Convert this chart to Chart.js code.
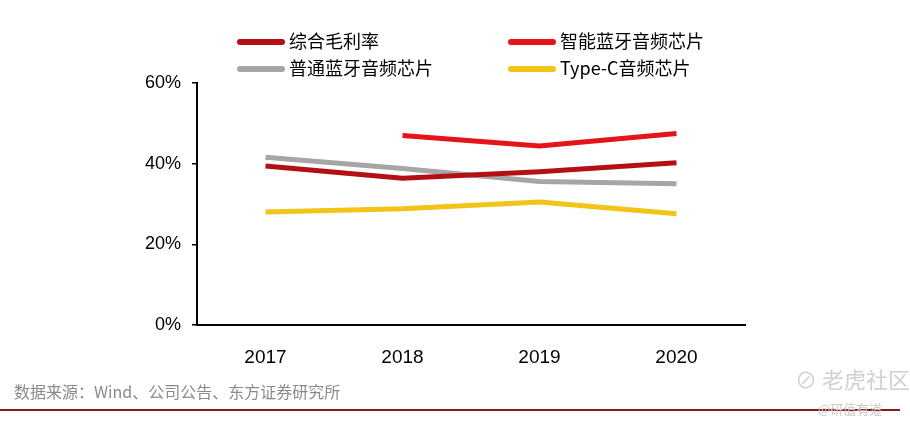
<!DOCTYPE html>
<html>
<head>
<meta charset="utf-8">
<script src="https://cdn.jsdelivr.net/npm/chart.js@4/dist/chart.umd.min.js"></script>
<style>
  body { margin: 0; width: 910px; height: 430px; background: #fff; overflow: hidden; position: relative; }
  #wrap { position: absolute; left: 0; top: 0; width: 910px; height: 380px; }
  .leg { position: absolute; font-family: "Noto Sans CJK SC", sans-serif; font-size: 18px; color: #000; line-height: 20px; white-space: nowrap; }
  .leg i { display: inline-block; width: 48px; height: 6px; border-radius: 3px; vertical-align: middle; margin-right: 4px; position: relative; top: -1px; }
  #src { position: absolute; left: 14px; top: 379px; font-family: "Noto Sans CJK SC", sans-serif; font-size: 16px; color: #8a8a8a; }
  #rule { position: absolute; left: 0; top: 409px; width: 900px; height: 2px; background: #8b1a1a; }
  #wm1 { position: absolute; left: 795px; top: 362px; font-family: "Noto Sans CJK SC", sans-serif; font-size: 22px; color: #d0d0d0; }
  #wm2 { position: absolute; left: 818px; top: 399px; font-family: "Noto Sans CJK SC", sans-serif; font-size: 13px; color: #c8c8c8; }
</style>
</head>
<body>
<div id="wrap"><canvas id="c"></canvas></div>
<div id="legend"></div>
<div id="src">数据来源：Wind、公司公告、东方证券研究所</div>
<div id="rule"></div>
<div id="wm1">⊘ 老虎社区</div>
<div id="wm2">@研值有道</div>
<script>
var years = ["2017", "2018", "2019", "2020"];
var grossMargin = [39.4, 36.4, 38.0, 40.2];
var smartBt = [null, 47.0, 44.4, 47.5];
var normalBt = [41.6, 38.8, 35.6, 35.0];
var typeC = [28.0, 28.8, 30.5, 27.6];
var yTicks = [0, 20, 40, 60];

var names = ["综合毛利率", "智能蓝牙音频芯片", "普通蓝牙音频芯片", "Type-C音频芯片"];
var colors = ["#b31015", "#e5141b", "#a6a6a6", "#f2c318"];
var series = [grossMargin, smartBt, normalBt, typeC];

var datasets = series.map(function (d, i) {
  return {
    label: names[i],
    data: d,
    borderColor: colors[i],
    backgroundColor: colors[i],
    borderWidth: 5,
    pointRadius: 0,
    tension: 0,
    fill: false,
  };
});

var ctx = document.getElementById("c").getContext("2d");
var chart = new Chart(ctx, {
  type: "line",
  data: { labels: years, datasets: datasets },
  options: {
    responsive: true,
    maintainAspectRatio: false,
    animation: false,
    layout: { padding: { left: 137, right: 165, top: 83, bottom: 10 } },
    scales: {
      x: {
        offset: true,
        grid: { display: false },
        border: { display: true, color: "#000", width: 2 },
        ticks: { color: "#000", padding: 13, font: { family: "Liberation Sans", size: 19 } },
        afterFit: function (s) { s.height = 45; },
      },
      y: {
        min: 0,
        max: 60,
        afterBuildTicks: function (s) { s.ticks = yTicks.map(function (v) { return { value: v }; }); },
        grid: { drawOnChartArea: false, tickLength: 5, color: "#000", lineWidth: 1.5 },
        border: { display: true, color: "#000", width: 2 },
        ticks: {
          color: "#000",
          padding: 11,
          font: { family: "Liberation Sans", size: 18 },
          callback: function (v) { return v + "%"; },
        },
        afterFit: function (s) { s.width = 60; },
      },
    },
    plugins: {
      legend: { display: false },
      tooltip: { enabled: false },
    },
  },
});

// legend in two columns
var pos = [[237, 30], [508, 30], [237, 57], [508, 57]];
var legend = document.getElementById("legend");
chart.data.datasets.forEach(function (ds, i) {
  var el = document.createElement("div");
  el.className = "leg";
  el.style.left = pos[i][0] + "px";
  el.style.top = pos[i][1] + "px";
  el.innerHTML = '<i style="background:' + ds.borderColor + '"></i>' + ds.label;
  legend.appendChild(el);
});
</script>
</body>
</html>
